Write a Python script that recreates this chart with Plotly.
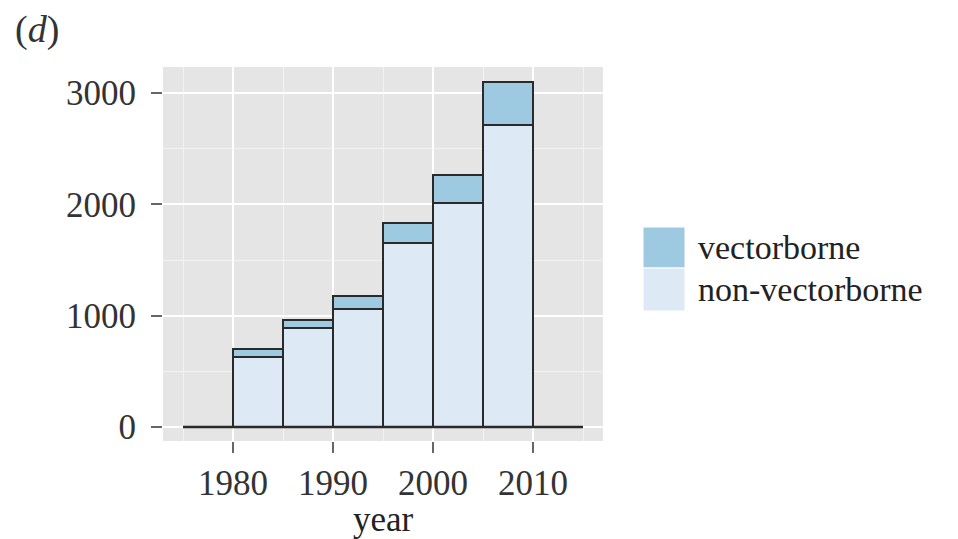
import plotly.graph_objects as go

# Data
bin_start = [1975, 1980, 1985, 1990, 1995, 2000, 2005, 2010]
bin_width = 5
non_vectorborne = [0, 630, 890, 1060, 1650, 2010, 2715, 0]
vectorborne = [0, 70, 75, 115, 185, 255, 380, 0]
y_ticks = [0, 1000, 2000, 3000]
x_ticks = [1980, 1990, 2000, 2010]
series_names = ["vectorborne", "non-vectorborne"]

COL_VEC = "#9ECAE1"
COL_NON = "#DDEAF6"
OUTLINE = "#2a2a2a"
FONT = "Liberation Serif"
FS = 35

centers = [s + bin_width / 2 for s in bin_start]

fig = go.Figure()
fig.add_trace(go.Bar(
    x=centers, y=non_vectorborne, width=bin_width, name=series_names[1],
    marker=dict(color=COL_NON, line=dict(color=OUTLINE, width=2.5)),
    showlegend=False,
))
fig.add_trace(go.Bar(
    x=centers, y=vectorborne, width=bin_width, name=series_names[0],
    marker=dict(color=COL_VEC, line=dict(color=OUTLINE, width=2.5)),
    showlegend=False,
))
# zero-height bins drawn as baseline
fig.add_trace(go.Scatter(
    x=[bin_start[0], bin_start[-1] + bin_width], y=[0, 0], mode="lines",
    line=dict(color=OUTLINE, width=2.5), showlegend=False, hoverinfo="skip",
))

PT, PB = 67, 441
fig.update_layout(
    width=958, height=539,
    margin=dict(l=163, r=355, t=PT, b=539 - PB),
    paper_bgcolor="white", plot_bgcolor="#E5E5E5",
    barmode="stack", bargap=0,
    font=dict(family=FONT, size=FS, color="#333333"),
)
fig.update_xaxes(
    range=[1973, 2017], tickvals=x_ticks, ticktext=[str(v) for v in x_ticks],
    showgrid=True, gridcolor="white", gridwidth=2, zeroline=False,
    ticks="outside", ticklen=11, tickcolor="#666666", tickwidth=1.5,
    tickfont=dict(family=FONT, size=FS, color="#333333"),
    minor=dict(dtick=5, tick0=1975, showgrid=True, gridcolor="#F2F2F2", gridwidth=1),
    title=dict(text="year", font=dict(family=FONT, size=FS, color="#222222"), standoff=15),
    showline=False, automargin=False,
)
fig.update_yaxes(
    range=[-126, 3234], tickvals=y_ticks, ticktext=[str(v) for v in y_ticks],
    showgrid=True, gridcolor="white", gridwidth=2, zeroline=False,
    ticks="outside", ticklen=11, tickcolor="#666666", tickwidth=1.5,
    ticklabelstandoff=8,
    tickfont=dict(family=FONT, size=FS, color="#333333"),
    minor=dict(dtick=500, tick0=0, showgrid=True, gridcolor="#F2F2F2", gridwidth=1),
    showline=False, automargin=False,
)

# manual legend (ggplot-style big keys)
pw, ph = 440.0, float(PB - PT)
def px_to_paper(px, py):
    return (px - 163) / pw, (PB - py) / ph

legend_items = [(series_names[0], COL_VEC, 227, 268), (series_names[1], COL_NON, 268, 311)]
for name, col, top, bot in legend_items:
    x0, y1 = px_to_paper(643, top)
    x1, y0 = px_to_paper(685, bot)
    fig.add_shape(type="rect", xref="paper", yref="paper", x0=x0, x1=x1, y0=y0, y1=y1,
                  fillcolor=col, line=dict(color="white", width=1), layer="above")
    tx, ty = px_to_paper(696, (top + bot) / 2)
    fig.add_annotation(xref="paper", yref="paper", x=tx, y=ty, text=name, showarrow=False,
                       xanchor="left", yanchor="middle",
                       font=dict(family=FONT, size=34, color="#222222"))

lx, ly = px_to_paper(13, 29)
fig.add_annotation(xref="paper", yref="paper", x=lx, y=ly, text="(<i>d</i>)", showarrow=False,
                   xanchor="left", yanchor="middle",
                   font=dict(family=FONT, size=38, color="#333333"))

fig.write_html("out.html", config={"displayModeBar": False},
               post_script="document.body.style.margin='0';document.body.style.overflow='hidden';")
